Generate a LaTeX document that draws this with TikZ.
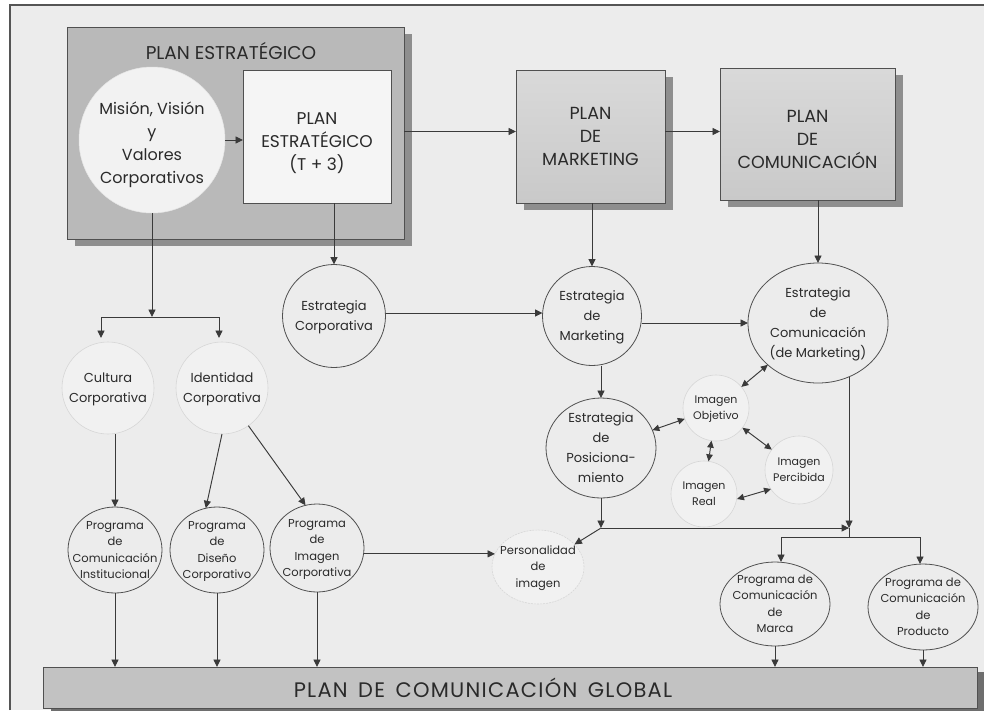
\documentclass[tikz,border=0pt]{standalone}
\usepackage{fontspec}
\setmainfont{Poppins}
\usetikzlibrary{arrows.meta,shadows,shapes.geometric,calc}
\definecolor{bg}{HTML}{ECECEC}
\definecolor{frame}{HTML}{555555}
\definecolor{txt}{HTML}{2A2A2A}
\definecolor{dline}{HTML}{505050}
\definecolor{fline}{HTML}{D6D6D6}
\definecolor{lfill}{HTML}{F1F1F1}
\definecolor{aline}{HTML}{3A3A3A}
\definecolor{bigfill}{HTML}{B9B9B9}
\definecolor{boxfill}{HTML}{C9C9C9}
\definecolor{shad}{HTML}{8E8E8E}
\definecolor{barfill}{HTML}{C2C2C2}
\definecolor{barshad}{HTML}{6E6E6E}
\newcommand{\ctext}[2][-0.3em]{\makebox[0pt]{\raisebox{#1}[0pt][0pt]{\begin{tabular}{@{}c@{}}#2\end{tabular}}}}
\tikzset{
  base/.style={text=txt, inner sep=0pt, outer sep=0pt},
  shd/.style={drop shadow={shadow xshift=8pt, shadow yshift=-7pt, fill=shad, opacity=1}},
  bigbox/.style={base, draw=dline, line width=0.7pt, fill=bigfill, shd},
  graybox/.style={base, draw=dline, line width=0.7pt, top color=boxfill!70!white, bottom color=boxfill, shd, align=center, font=\fontsize{17.5}{23}\selectfont},
  wbox/.style={base, draw=dline, line width=0.7pt, fill=white!96!black, align=center, font=\fontsize{17}{23}\selectfont},
  dk/.style={base, draw=dline, line width=0.8pt, fill=bg},
  lt/.style={base, draw=fline, line width=0.6pt, fill=lfill},
  fmis/.style={font=\fontsize{16}{23}\selectfont},
  fmed/.style={font=\fontsize{13}{20}\selectfont},
  fsmall/.style={font=\fontsize{11}{16}\selectfont},
  fprog/.style={font=\fontsize{11.5}{16.5}\selectfont},
  ln/.style={draw=aline, line width=0.95pt},
  arr/.style={ln, -{Triangle[length=7.5pt,width=7pt]}},
  dbl/.style={ln, {Triangle[length=7pt,width=6.5pt]}-{Triangle[length=7pt,width=6.5pt]}},
}
\begin{document}
\begin{tikzpicture}[x=1pt,y=-1pt]
\useasboundingbox (0,0) rectangle (984,710);
\fill[white] (0,0) rectangle (984,710);
\fill[bg] (10,5) rectangle (984,710);
\draw[frame, line width=1.4pt] (10,710) -- (10,5) -- (984,5);

% top boxes
\node[bigbox, minimum width=337pt, minimum height=212pt] (pe) at (235.5,133) {};
\node[base, font=\fontsize{18.5}{20}\selectfont] (petitle) at (231,51) {PLAN ESTRATÉGICO};
\node[base, circle, draw=white!90!black, line width=0.5pt, fill=white!95!black, minimum size=146pt, fmis] (mision) at (152,140) {\ctext[-0.55em]{Misión, Visión\\y\\Valores\\Corporativos}};
\node[wbox, minimum width=148pt, minimum height=133pt] (pet3) at (317,136.5) {\ctext[-11pt]{PLAN\\ESTRATÉGICO\\(T + 3)}};
\node[graybox, minimum width=149pt, minimum height=133pt] (pm) at (590.5,136.5) {PLAN\\DE\\MARKETING};
\node[graybox, minimum width=175pt, minimum height=132pt] (pc) at (807.5,134) {\ctext[-11pt]{PLAN\\DE\\COMUNICACIÓN}};

% strategy circles
\node[dk, circle, minimum size=103pt, fmed] (ecorp) at (334,316) {\ctext{Estrategia\\Corporativa}};
\node[dk, circle, minimum size=99pt, fmed] (emkt) at (592,316) {\ctext{Estrategia\\de\\Marketing}};
\node[dk, ellipse, minimum width=140pt, minimum height=120pt, fmed] (ecom) at (818,323) {\ctext{Estrategia\\de\\Comunicación\\(de Marketing)}};
\node[dk, ellipse, minimum width=110pt, minimum height=100pt, fmed] (epos) at (601,448) {\ctext{Estrategia\\de\\Posiciona-\\miento}};

% image circles
\node[lt, circle, minimum size=66pt, fsmall] (iobj) at (716,408) {\ctext{Imagen\\Objetivo}};
\node[lt, circle, minimum size=66pt, fsmall] (ireal) at (704,494) {\ctext{Imagen\\Real}};
\node[lt, circle, minimum size=68pt, fsmall] (iperc) at (799,470) {\ctext{Imagen\\Percibida}};

% left circles
\node[lt, circle, minimum size=92pt, fmed] (cult) at (108,388) {\ctext{Cultura\\Corporativa}};
\node[lt, circle, minimum size=92pt, fmed] (ident) at (222,388) {\ctext{Identidad\\Corporativa}};

% programs
\node[dk, ellipse, minimum width=94pt, minimum height=86pt, fprog] (pinst) at (115,550) {\ctext{Programa\\de\\Comunicación\\Institucional}};
\node[dk, ellipse, minimum width=94pt, minimum height=86pt, fprog] (pdis) at (217,550) {\ctext{Programa\\de\\Diseño\\Corporativo}};
\node[dk, ellipse, minimum width=94pt, minimum height=88pt, fprog] (pimg) at (317,548) {\ctext{Programa\\de\\Imagen\\Corporativa}};
\node[lt, ellipse, dashed, dash pattern=on 2pt off 1pt, minimum width=92pt, minimum height=74pt, fprog] (pers) at (538,567) {\ctext{Personalidad\\de\\imagen}};
\node[dk, ellipse, minimum width=110pt, minimum height=84pt, fprog] (pmarca) at (775,604) {\ctext{Programa de\\Comunicación\\de\\Marca}};
\node[dk, ellipse, minimum width=110pt, minimum height=86pt, fprog] (pprod) at (923,607) {\ctext{Programa de\\Comunicación\\de\\Producto}};

% global bar
\node[base, draw=dline, line width=0.7pt, fill=barfill, minimum width=934pt, minimum height=41pt,
  drop shadow={shadow xshift=8pt, shadow yshift=-5pt, fill=barshad, opacity=1}] (global) at (510,687.5) {};
\node[base, font=\fontsize{21}{24}\selectfont\addfontfeature{LetterSpace=6}] (globaltxt) at (483,688) {PLAN\hspace{0.5em}DE\hspace{0.5em}COMUNICACIÓN\hspace{0.5em}GLOBAL};

% connectors: top
\draw[arr] (mision.east) -- (mision.east -| pet3.west);
\draw[arr] ([yshift=5pt]pm.west -| pe.east) -- ([yshift=5pt]pm.west);
\draw[arr] ([yshift=5pt]pm.east) -- ([yshift=5pt]pm.east -| pc.west);
\draw[arr] (emkt.north |- pm.south) -- (emkt.north);
\draw[arr] (ecom.north |- pc.south) -- (ecom.north);
\draw[arr] (ecorp.north |- pet3.south) -- (ecorp.north);
\draw[arr] (ecorp.east |- 0,313) -- (emkt.west |- 0,313);
\draw[arr] (emkt.east |- ecom.west) -- (ecom.west);
\draw[arr] (emkt.south -| epos.north) -- (epos.north);

% image arrows
\draw[dbl] (epos) -- (iobj);
\draw[dbl] (iobj) -- (ireal);
\draw[dbl] (iobj) -- (iperc);
\draw[dbl] (iobj) -- (ecom);
\draw[dbl] ([yshift=-5pt]ireal.east) -- ([xshift=6pt,yshift=-19pt]iperc.west);

% lower right junctions
\coordinate (j1) at (601,528);
\coordinate (j2) at (ecom.-60 |- j1);
\coordinate (j3) at (ecom.-60 |- 0,537);
\coordinate (b1) at (781,537);
\coordinate (b2) at (920,537);
\draw[arr] (epos.south) -- (j1);
\draw[arr] (j1) -- (pers);
\draw[arr] (j1) -- (j2);
\draw[arr] (ecom.-60) -- (j2);
\draw[ln] (j2) -- (j3);
\draw[ln] (b1) -- (b2);
\draw[arr] (b1) -- (b1 |- pmarca.north);
\draw[arr] (b2) -- (b2 |- pprod.north);
\draw[arr] (pmarca.south) -- (pmarca.south |- global.north);
\draw[arr] (pprod.south) -- (pprod.south |- global.north);

% left tree
\coordinate (t0) at (mision.south |- 0,317);
\coordinate (tl) at (101,317);
\coordinate (tr) at (219,317);
\draw[arr] (mision.south) -- (t0);
\draw[ln] (tl) -- (tr);
\draw[arr] (tl) -- (tl |- 0,338);
\draw[arr] (tr) -- (tr |- 0,338);
\draw[arr] (pinst.north |- cult.south) -- (pinst.north);
\draw[arr] (ident.south) -- (pdis.105);
\draw[arr] (ident.-55) -- (pimg.105);
\draw[arr] (pimg.east |- pers.163) -- (pers.163);
\draw[arr] (pinst.south) -- (pinst.south |- global.north);
\draw[arr] (pdis.south) -- (pdis.south |- global.north);
\draw[arr] (pimg.south) -- (pimg.south |- global.north);
\end{tikzpicture}
\end{document}
